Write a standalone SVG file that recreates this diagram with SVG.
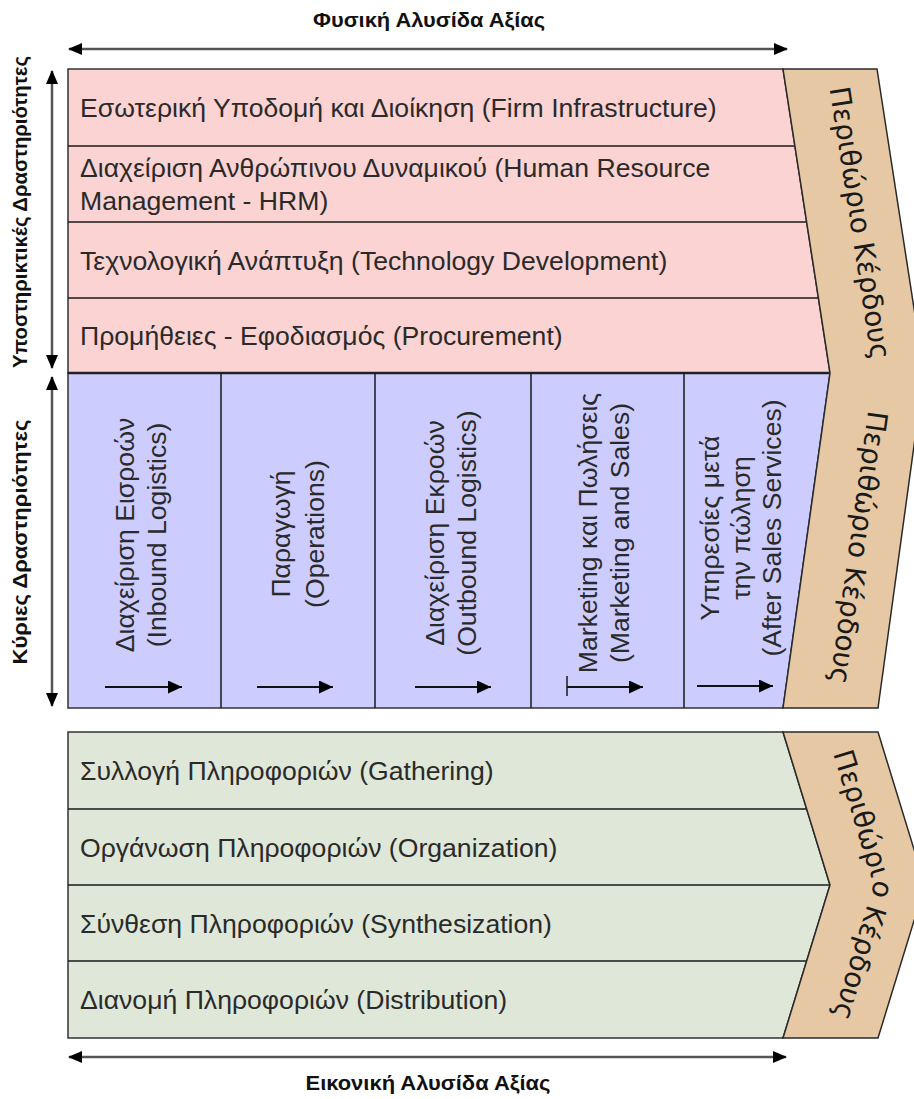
<svg xmlns="http://www.w3.org/2000/svg" width="914" height="1099" viewBox="0 0 914 1099">
<defs>
<style>
.t { font-family: "Liberation Sans", Arial, sans-serif; font-size: 26.6px; fill: #2a2a2a; }
.lbl { font-family: "Liberation Sans", Arial, sans-serif; font-weight: bold; font-size: 20px; fill: #111; }
.ch { font-family: "DejaVu Sans", sans-serif; font-size: 28px; fill: #1a1a1a; }
.sep { stroke: #1a1a1a; stroke-width: 1.5; fill: none; }
.frame { stroke: #333; stroke-width: 1.5; }
.pink { fill: #FAD3D2; }
.blue { fill: #CCCCFF; }
.green { fill: #DFE7D9; }
.tan { fill: #E6C9A4; stroke: #2a2a2a; stroke-width: 1.5; }
.axis { stroke: #555; stroke-width: 2.5; fill: none; marker-start: url(#ah); marker-end: url(#ah); }
.flow { stroke: #111; stroke-width: 2; fill: none; marker-end: url(#sh); }
</style>
<marker id="ah" viewBox="0 0 14 12" refX="13" refY="6" markerWidth="14" markerHeight="12" markerUnits="userSpaceOnUse" orient="auto-start-reverse">
<path d="M0,0 L14,6 L0,12 z" fill="#000"/>
</marker>
<marker id="sh" viewBox="0 0 14 13" refX="14" refY="6.5" markerWidth="14" markerHeight="13" markerUnits="userSpaceOnUse" orient="auto">
<path d="M0,0 L14,6.5 L0,13 z" fill="#000"/>
</marker>
<path id="bentPath" d="M826.5,732 L873.5,885 L826.5,1038"/>
</defs>
<rect width="914" height="1099" fill="#fff"/>

<g id="support-activities">
<polygon class="pink frame" points="68,69 783,69 830,373 68,373"/>
<line class="sep" x1="68" y1="146" x2="795" y2="146"/>
<line class="sep" x1="68" y1="222" x2="806.7" y2="222"/>
<line class="sep" x1="68" y1="298" x2="818.4" y2="298"/>
<text class="t" x="80" y="117">Εσωτερική Υποδομή και Διοίκηση (Firm Infrastructure)</text>
<text class="t" x="80" y="177">Διαχείριση Ανθρώπινου Δυναμικού (Human Resource</text>
<text class="t" x="80" y="210">Management - HRM)</text>
<text class="t" x="80" y="269.5">Τεχνολογική Ανάπτυξη (Technology Development)</text>
<text class="t" x="80" y="345">Προμήθειες - Εφοδιασμός (Procurement)</text>
</g>

<g id="primary-activities">
<polygon class="blue frame" points="68,373 830,373 783,708 68,708"/>
<line x1="68" y1="373" x2="830" y2="373" stroke="#222" stroke-width="2.5"/>
<line class="sep" x1="221" y1="373" x2="221" y2="708"/>
<line class="sep" x1="375" y1="373" x2="375" y2="708"/>
<line class="sep" x1="531" y1="373" x2="531" y2="708"/>
<line class="sep" x1="684" y1="373" x2="684" y2="708"/>
<text class="t" text-anchor="middle" transform="translate(134,535) rotate(-90)">Διαχείριση Εισροών</text>
<text class="t" text-anchor="middle" transform="translate(166,535) rotate(-90)">(Inbound Logistics)</text>
<text class="t" text-anchor="middle" transform="translate(290,534) rotate(-90)">Παραγωγή</text>
<text class="t" text-anchor="middle" transform="translate(324,534) rotate(-90)">(Operations)</text>
<text class="t" text-anchor="middle" transform="translate(444,533) rotate(-90)">Διαχείριση Εκροών</text>
<text class="t" text-anchor="middle" transform="translate(476,533) rotate(-90)">(Outbound Logistics)</text>
<text class="t" text-anchor="middle" transform="translate(597,533) rotate(-90)">Marketing και Πωλήσεις</text>
<text class="t" text-anchor="middle" transform="translate(629,533) rotate(-90)">(Marketing and Sales)</text>
<text class="t" text-anchor="middle" transform="translate(719,528) rotate(-90)">Υπηρεσίες μετά</text>
<text class="t" text-anchor="middle" transform="translate(750,528) rotate(-90)">την πώληση</text>
<text class="t" text-anchor="middle" transform="translate(781,528) rotate(-90)">(After Sales Services)</text>
</g>

<g id="margin-physical">
<polygon class="tan" points="783,69 877,69 924,373 878,708 783,708 830,373"/>
<text class="ch" text-anchor="middle" transform="translate(850.6,224.5) rotate(81.24)">Περιθώριο Κέρδους</text>
<text class="ch" text-anchor="middle" transform="translate(849.2,546.5) rotate(97.99)">Περιθώριο Κέρδους</text>
</g>

<g id="virtual-chain">
<polygon class="green frame" points="68,732 783,732 830,885 783,1038 68,1038"/>
<line class="sep" x1="68" y1="809" x2="806.7" y2="809"/>
<line class="sep" x1="68" y1="885" x2="830" y2="885"/>
<line class="sep" x1="68" y1="961" x2="806.7" y2="961"/>
<text class="t" x="80" y="780">Συλλογή Πληροφοριών (Gathering)</text>
<text class="t" x="80" y="856.5">Οργάνωση Πληροφοριών (Organization)</text>
<text class="t" x="80" y="932.5">Σύνθεση Πληροφοριών (Synthesization)</text>
<text class="t" x="80" y="1009">Διανομή Πληροφοριών (Distribution)</text>
</g>

<g id="margin-virtual">
<polygon class="tan" points="783,732 878,732 925,885 878,1038 783,1038 830,885"/>
<text class="ch"><textPath href="#bentPath" startOffset="50%" text-anchor="middle">Περιθώριο Κέρδους</textPath></text>
</g>

<g id="labels">
<text class="lbl" x="429" y="27" text-anchor="middle" textLength="232" lengthAdjust="spacingAndGlyphs">Φυσική Αλυσίδα Αξίας</text>
<text class="lbl" x="428" y="1090" text-anchor="middle" textLength="245" lengthAdjust="spacingAndGlyphs">Εικονική Αλυσίδα Αξίας</text>
<text class="lbl" text-anchor="middle" transform="translate(27,212) rotate(-90)" textLength="312" lengthAdjust="spacingAndGlyphs">Υποστηρικτικές Δραστηριότητες</text>
<text class="lbl" text-anchor="middle" transform="translate(27,542) rotate(-90)" textLength="245" lengthAdjust="spacingAndGlyphs">Κύριες Δραστηριότητες</text>
</g>

<g id="connectors">
<line class="axis" x1="69" y1="49" x2="787" y2="49"/>
<line class="axis" x1="69" y1="1057" x2="786" y2="1057"/>
<line class="axis" x1="52" y1="71" x2="52" y2="368"/>
<line class="axis" x1="52" y1="377" x2="52" y2="706"/>
<line class="flow" x1="105" y1="687" x2="182" y2="687"/>
<line class="flow" x1="257" y1="687" x2="333" y2="687"/>
<line class="flow" x1="415" y1="687" x2="491" y2="687"/>
<line class="flow" x1="567" y1="687" x2="643" y2="687"/>
<line class="sep" x1="567" y1="676" x2="567" y2="696"/>
<line class="flow" x1="697" y1="686" x2="773" y2="686"/>
</g>
</svg>
